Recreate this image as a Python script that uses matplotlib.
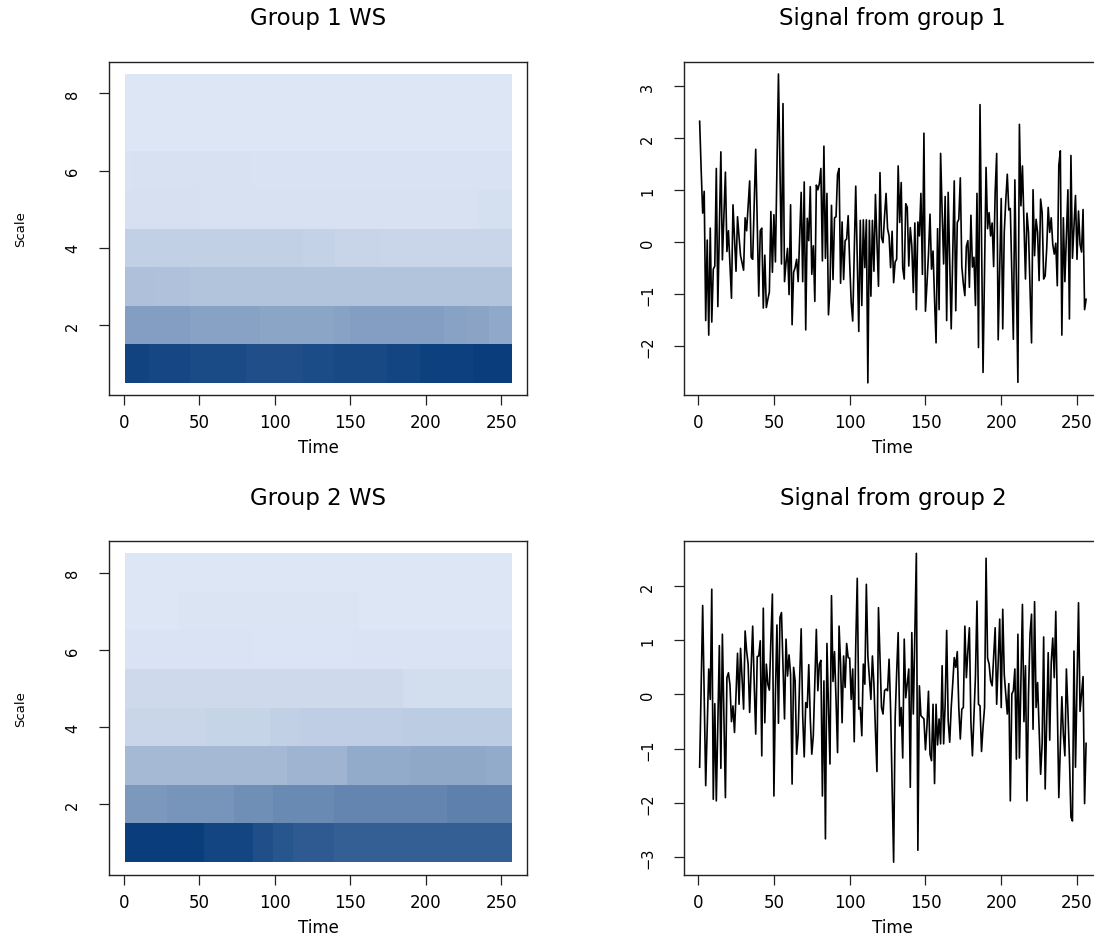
import numpy as np
import matplotlib
matplotlib.use("Agg")
import matplotlib.pyplot as plt
from matplotlib.colors import LinearSegmentedColormap


# Signals (one value per time point, 1..256)
signal_group_1 = [
    2.33, 1.40, 0.56, 0.98, -1.51, 0.04, -1.79, 0.27, -1.54, -0.52,
    -0.46, 1.42, -1.24, 0.25, 1.74, -0.34, 0.50, 1.35, -0.18, 0.22,
    -0.43, -1.08, 0.72, 0.08, -0.56, 0.49, 0.10, -0.26, -0.40, -0.54,
    0.47, 0.22, 0.70, 1.18, -0.29, -0.33, 0.70, 1.79, 0.40, -1.04,
    0.22, 0.27, -1.27, -0.25, -1.26, -1.10, -0.96, 0.59, -0.58, 0.53,
    -0.38, 1.40, 3.24, 1.40, -0.42, 2.67, -0.76, -0.40, -0.12, -1.01,
    0.72, -1.59, -0.58, -0.49, -0.33, -0.76, 0.10, 0.96, -0.76, 1.16,
    -1.69, 0.46, 0.03, 1.07, -0.62, -0.07, -1.14, 1.10, 1.01, 1.13,
    1.42, -0.36, 1.85, -0.31, 0.94, -1.40, -0.90, 0.71, -0.72, 0.47,
    0.49, 1.31, 1.42, -0.79, 0.39, -0.72, 0.03, 0.06, 0.51, -0.39,
    -1.16, -1.52, -0.20, 1.08, -0.30, -1.72, 0.42, -1.22, 0.43, -0.49,
    0.43, -2.71, 0.42, -1.04, 0.42, -0.56, 0.92, 0.00, -0.85, 1.34,
    0.09, -0.01, 0.50, 0.94, 0.26, 0.12, -0.49, 0.21, -0.78, -0.38,
    -0.33, 1.47, 0.38, 1.15, -0.50, -0.71, 0.74, 0.67, -0.46, 0.28,
    -0.07, -0.97, 0.37, -1.30, 0.39, 0.12, 0.94, -0.62, 2.10, -1.33,
    -0.80, -0.23, 0.54, -0.52, -0.17, -1.10, -1.94, 0.26, -1.30, 1.71,
    0.60, -0.42, 0.88, -1.51, 0.96, -0.40, -1.67, -0.20, 1.18, -1.32,
    0.38, 0.44, 1.24, -0.47, -0.80, -1.03, -0.08, 0.03, -0.87, 0.52,
    -0.48, -0.29, -1.22, 0.94, -2.03, 2.65, 0.10, -2.51, -0.50, 1.44,
    0.26, 0.57, 0.12, 0.37, -0.47, 0.96, 1.71, -1.88, -0.50, 0.84,
    -1.67, 0.19, 0.80, 1.31, 0.62, 0.65, -0.60, -1.87, 1.20, -0.80,
    -2.70, 2.27, 0.70, 1.47, 0.40, -0.71, 0.56, 0.19, -0.90, -1.94,
    1.01, -0.26, 0.44, 0.19, -0.74, 0.83, 0.57, -0.71, -0.65, -0.13,
    0.67, 0.19, 0.47, -0.04, -0.23, -0.02, -0.84, 1.48, 1.76, -1.79,
    0.47, -0.76, 0.10, 1.01, -1.48, 1.67, -0.31, 0.30, 0.90, -0.33,
    0.60, -0.04, -0.19, 0.63, -1.30, -1.10,
]

signal_group_2 = [
    -1.34, 0.20, 1.64, 0.00, -1.68, -0.60, 0.47, -0.09, 1.94, -1.93,
    -0.17, -1.96, -0.50, 0.90, -1.36, 1.11, -0.40, -1.90, 0.31, 0.40,
    0.18, -0.50, -0.21, -0.70, 0.00, 0.76, -0.18, 0.85, 0.30, -0.27,
    1.17, 0.80, 0.56, -0.33, 0.50, 1.26, 0.20, -0.73, 0.70, 0.71,
    0.99, -1.13, 1.59, -0.52, 0.56, 0.19, 0.08, 1.00, 1.85, -1.87,
    0.00, 1.28, -0.53, 1.42, 1.51, 0.50, -0.45, 1.02, 0.34, 0.73,
    0.37, -1.65, 0.50, 0.25, -1.10, -0.73, 0.30, 1.21, -0.39, -1.15,
    -0.15, -0.24, 0.55, -0.45, -1.10, -0.76, 0.20, 1.20, 0.07, 0.56,
    0.63, -1.87, 0.25, -2.66, 0.94, -0.24, -1.28, 1.82, 0.24, 0.79,
    -0.10, -1.07, 1.26, 0.56, -0.52, 0.71, 0.13, 0.94, 0.68, 0.67,
    -0.09, 0.47, -0.87, 0.90, 2.14, -0.27, -0.24, -0.76, 0.56, 0.19,
    2.03, 0.71, 0.30, -0.09, 0.71, 0.19, -0.67, -1.42, 1.60, 0.68,
    -0.24, -0.36, 0.07, 0.10, 0.07, 0.65, -0.27, -1.70, -3.09, -0.45,
    0.40, 1.14, -0.58, -0.24, -1.17, 1.02, -0.06, 0.20, 0.47, -1.71,
    1.14, -0.36, 1.10, 2.60, -2.87, 0.16, -0.39, -0.42, -0.45, -1.02,
    -0.58, 0.06, -1.10, -1.22, -0.18, -1.64, -0.18, -0.93, -0.45, -0.91,
    0.53, -0.91, -0.18, 1.18, -0.48, -0.88, -0.24, 0.20, 0.68, 0.50,
    0.79, -0.24, -0.82, -0.27, -0.24, 1.26, 0.31, 0.80, 1.23, -0.52,
    -1.13, -0.40, 0.34, 1.72, -0.18, -0.21, -1.05, -0.60, -0.24, 2.51,
    0.67, 0.56, 0.25, 0.16, 0.70, 1.23, -0.18, 0.60, 1.39, -0.24,
    1.57, 0.37, 0.00, -0.36, 0.20, -1.96, 0.01, 0.07, 0.47, -1.19,
    1.11, -1.17, 0.20, 1.66, -0.50, 0.53, -1.96, 0.00, 1.11, 1.48,
    -0.64, 1.71, -0.24, 0.22, -0.60, -1.47, -0.91, 1.06, -1.74, -0.50,
    0.77, -0.84, 0.59, 1.04, 0.31, 1.53, -0.15, -1.90, -1.00, -0.04,
    -0.73, -1.13, 0.47, -0.30, -1.16, -2.26, -2.33, 0.80, -1.34, 0.20,
    1.69, -0.31, 0.01, 0.33, -2.01, -0.90,
]

# Wavelet spectrum levels (0 = lightest, 1 = darkest), scale 1 first.
# Each row is a list of (start time, level) pieces.
spectrum_group_1 = [
    [(0, 0.95), (16, 0.93), (43, 0.91), (80, 0.89), (118, 0.90),
     (138, 0.92), (173, 0.94), (195, 0.97), (230, 0.99)],
    [(0, 0.42), (43, 0.40), (89, 0.38), (138, 0.40), (149, 0.42),
     (211, 0.40), (226, 0.385), (241, 0.36)],
    [(0, 0.22), (19, 0.21), (43, 0.20)],
    [(0, 0.125), (118, 0.115), (139, 0.10), (169, 0.09)],
    [(0, 0.035), (49, 0.03), (234, 0.04)],
    [(0, 0.02), (4, 0.03), (83, 0.02)],
    [(0, 0.0)],
    [(0, 0.0)],
]

spectrum_group_2 = [
    [(0, 0.99), (52, 0.94), (85, 0.89), (98, 0.85), (111, 0.82),
     (138, 0.79)],
    [(0, 0.455), (28, 0.48), (72, 0.51), (98, 0.54), (138, 0.57),
     (213, 0.595)],
    [(0, 0.265), (107, 0.29), (147, 0.345), (189, 0.365), (239, 0.345)],
    [(0, 0.09), (53, 0.108), (96, 0.127), (116, 0.14), (184, 0.155)],
    [(0, 0.07), (184, 0.052)],
    [(0, 0.019), (85, 0.01), (151, 0.019)],
    [(0, 0.0), (36, 0.015), (155, 0.0)],
    [(0, 0.0)],
]

heat_titles = ["Group 1 WS", "Group 2 WS"]
signal_titles = ["Signal from group 1", "Signal from group 2"]

N_TIME = 256
N_SCALE = 8
time = np.arange(1, N_TIME + 1)

ws_cmap = LinearSegmentedColormap.from_list("ws", ["#dde6f5", "#083c7c"])

TICK_FONT = 12
LEFT_X = 0.0999
RIGHT_X = 0.6254
PANEL_W = 0.3815
PANEL_H = 0.3559
ROW_Y = [0.5772, 0.0656]


def build_spectrum(rows):
    grid = np.zeros((N_SCALE, N_TIME))
    for s, pieces in enumerate(rows):
        for start, level in pieces:
            grid[s, start:] = level
    return grid


def r_limits(lo, hi):
    pad = (hi - lo) * 0.04
    return lo - pad, hi + pad


def style_axes(ax):
    for spine in ax.spines.values():
        spine.set_linewidth(1.0)
        spine.set_color("#222222")
    ax.tick_params(axis="both", length=7, width=0.9, color="#222222")
    ax.tick_params(axis="x", labelsize=TICK_FONT, pad=6)
    ax.tick_params(axis="y", labelsize=10.5, pad=14)
    for label in ax.get_yticklabels():
        label.set_rotation(90)
        label.set_va("center")
    ax.set_xticks([0, 50, 100, 150, 200, 250])
    ax.set_xlabel("Time", fontsize=12, labelpad=5)


plt.rcParams["font.family"] = ["DejaVu Sans"]

fig = plt.figure(figsize=(10.94, 9.37), dpi=100)

for row, (rows, signal) in enumerate(
    [(spectrum_group_1, signal_group_1), (spectrum_group_2, signal_group_2)]
):
    # Wavelet spectrum panel
    ax_h = fig.add_axes([LEFT_X, ROW_Y[row], PANEL_W, PANEL_H])
    grid = build_spectrum(rows)
    ax_h.imshow(
        grid,
        origin="lower",
        aspect="auto",
        cmap=ws_cmap,
        vmin=0,
        vmax=1,
        interpolation="nearest",
        extent=(0.5, N_TIME + 0.5, 0.5, N_SCALE + 0.5),
    )
    ax_h.set_xlim(*r_limits(0.5, N_TIME + 0.5))
    ax_h.set_ylim(*r_limits(0.5, N_SCALE + 0.5))
    ax_h.set_yticks([2, 4, 6, 8])
    style_axes(ax_h)
    ax_h.set_ylabel("Scale", fontsize=9.5, labelpad=27)
    ax_h.set_title(heat_titles[row], fontsize=16.5, pad=27)

    # Signal panel
    ax_s = fig.add_axes([RIGHT_X, ROW_Y[row], PANEL_W, PANEL_H])
    values = np.array(signal)
    ax_s.plot(time, values, color="black", linewidth=1.2)
    ax_s.set_xlim(*r_limits(1, N_TIME))
    ax_s.set_ylim(*r_limits(values.min(), values.max()))
    lo = int(np.ceil(values.min()))
    hi = int(np.floor(values.max()))
    ax_s.set_yticks(range(lo, hi + 1))
    style_axes(ax_s)
    ax_s.set_title(signal_titles[row], fontsize=16.5, pad=27)

fig.savefig("out.png", dpi=100)
